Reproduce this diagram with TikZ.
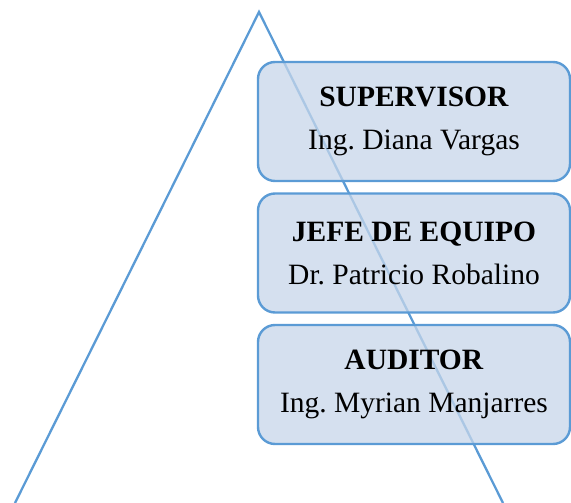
\documentclass[tikz,border=0pt]{standalone}
\usepackage{fontspec}
\setmainfont{Liberation Serif}
\usetikzlibrary{positioning}
\definecolor{OrgLine}{HTML}{5B9BD5}
\definecolor{OrgFill}{RGB}{199,214,234}
\frenchspacing

\begin{document}
\begin{tikzpicture}[
    x=1pt,y=-1pt,
    font=\fontsize{29.5}{43}\selectfont,
    role/.style={draw=OrgLine,line width=2.4pt,rounded corners=17pt,fill=OrgFill,fill opacity=0.75,text opacity=1,minimum width=312pt,minimum height=119pt,align=center,inner sep=0pt,outer sep=0pt},
    edge/.style={OrgLine,line width=2.3pt}
  ]
    \useasboundingbox (0,0) rectangle (571,503);
    \coordinate (apex) at (259,12);
    \coordinate (baseL) at (15,503);
    \coordinate (baseR) at (503,503);
    \draw[edge] (baseL) -- (apex) -- (baseR);

    \node[role] (supervisor) at (414,121.5) {\textbf{SUPERVISOR}\\Ing. Diana Vargas};
    \node[role,below=12.5pt of supervisor] (jefe) {\textbf{JEFE DE EQUIPO}\\Dr. Patricio Robalino};
    \node[role,below=12.5pt of jefe] (auditor) {\textbf{AUDITOR}\\Ing. Myrian Manjarres};
  \end{tikzpicture}
\end{document}
